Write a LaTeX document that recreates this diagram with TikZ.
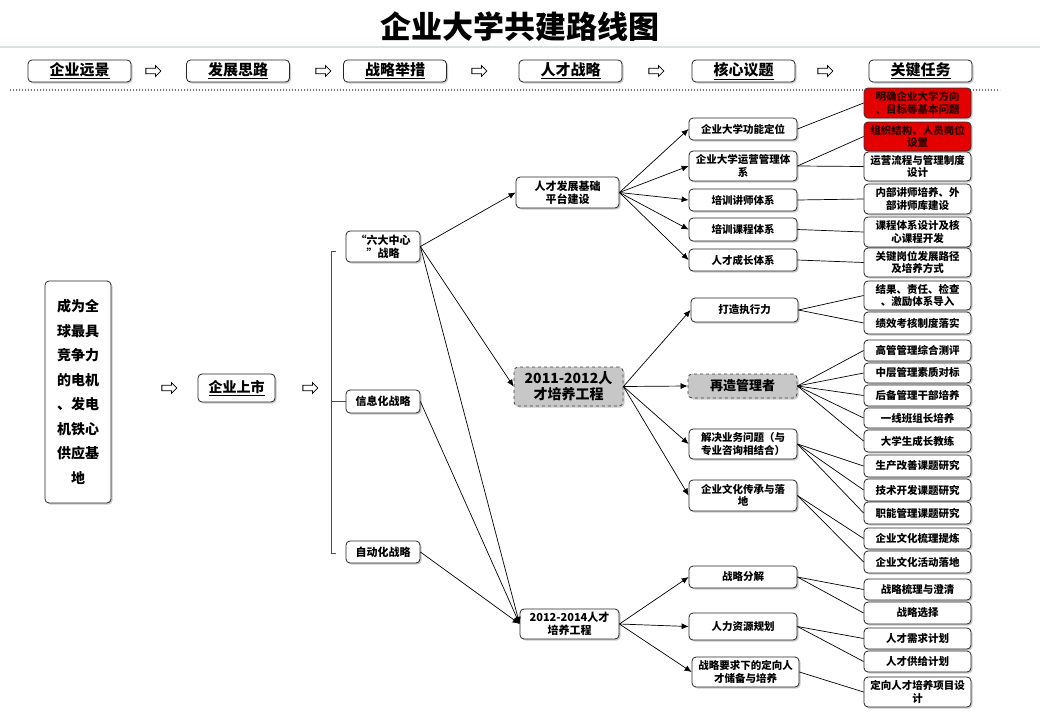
\documentclass[tikz,border=0pt]{standalone}
\usepackage{fontspec}
\setmainfont{Noto Sans CJK SC}[BoldFont={Noto Sans CJK SC Black}]
\newfontfamily\titlefont{Noto Sans CJK SC Black}
\usetikzlibrary{shapes.arrows,shadows,arrows.meta}
\begin{document}
\begin{tikzpicture}[x=1pt,y=-1pt,
  box/.style={draw=black!85, line width=0.8pt, rounded corners=4pt, fill=white, align=center,
    inner sep=1pt, font=\bfseries\fontsize{10.5}{12.5}\selectfont,
    drop shadow={shadow xshift=1.5pt, shadow yshift=-1.5pt, opacity=0.35, fill=black!60}},
  hdr/.style={box, minimum width=103, minimum height=22, font=\bfseries\fontsize{15}{17}\selectfont},
  redbox/.style={box, fill=red!90!black, draw=black!80, text=black!85!red},
  graybox/.style={box, fill=black!22, dashed, draw=black!75},
  harrow/.style={single arrow, draw=black, fill=white, line width=0.8pt, inner sep=2.3pt,
    single arrow head extend=2.6pt, minimum height=15pt},
  arr/.style={draw=black, line width=0.7pt, -{Latex[length=7pt,width=6pt]}},
  ln/.style={draw=black, line width=0.7pt},
  c4/.style={box, minimum width=108},
  c5/.style={box, minimum width=107}
]
\useasboundingbox (0,0) rectangle (1040,720);
% title
\node[font=\titlefont\fontsize{31}{34}\selectfont] (title) at (520,27) {企业大学共建路线图};
\draw[line width=2pt, draw={rgb,255:red,216;green,228;blue,226}] (0,47) -- (1040,47);
% header
\node[hdr] (h1) at (79.5,71) {\underline{企业远景}};
\node[hdr] (h2) at (238,71) {\underline{发展思路}};
\node[hdr] (h3) at (395,71) {\underline{战略举措}};
\node[hdr] (h4) at (570.5,71) {\underline{人才战略}};
\node[hdr] (h5) at (743.5,71) {\underline{核心议题}};
\node[hdr] (h6) at (920.5,71) {\underline{关键任务}};
\node[harrow] (ha1) at (152,71) {};
\node[harrow] (ha2) at (322,71) {};
\node[harrow] (ha3) at (478,71) {};
\node[harrow] (ha4) at (655,71) {};
\node[harrow] (ha5) at (824,71) {};
\draw[line width=1.3pt, draw=black!55, dash pattern=on 1.3pt off 1.7pt] (10,90) -- (1000,90);
% left
\node[box, minimum width=66, minimum height=222, font=\bfseries\fontsize{14}{24.5}\selectfont] (vision) at (78,392)
  {成为全\\球最具\\竞争力\\的电机\\、发电\\机铁心\\供应基\\地};
\node[harrow] (la1) at (168,388) {};
\node[box, minimum width=77, minimum height=28, font=\bfseries\fontsize{14}{16}\selectfont] (ipo) at (236.5,388) {\underline{企业上市}};
\node[harrow] (la2) at (309,388) {};
% column 2
\node[box, minimum width=74, minimum height=31, font=\bfseries\fontsize{11}{13}\selectfont] (six) at (383,246.5) {“六大中心\\”战略};
\node[box, minimum width=74, minimum height=23, font=\bfseries\fontsize{11}{13}\selectfont] (info) at (383,401.5) {信息化战略};
\node[box, minimum width=74, minimum height=22, font=\bfseries\fontsize{11}{13}\selectfont] (auto) at (383,552) {自动化战略};
\draw[line width=0.8pt, draw=black!70] (336,251) -- (331,251) -- (331,553) -- (336,553);
\draw[line width=0.8pt, draw=black!70] (331,401.5) -- (info.west);
% column 3
\node[box, minimum width=103, minimum height=31, font=\bfseries\fontsize{11}{13}\selectfont] (base) at (567.5,192.5) {人才发展基础\\平台建设};
\node[graybox, minimum width=109, minimum height=39, font=\bfseries\fontsize{14}{16}\selectfont] (p1) at (568.5,386.5) {2011-2012人\\才培养工程};
\node[box, minimum width=99, minimum height=30, font=\bfseries\fontsize{11}{13}\selectfont] (p2) at (569.5,624) {2012-2014人才\\培养工程};
% column 4
\node[c4, minimum height=22] (a1) at (743,129) {企业大学功能定位};
\node[c4, minimum height=30] (a2) at (743,166) {企业大学运营管理体\\系};
\node[c4, minimum height=22] (a3) at (743,200) {培训讲师体系};
\node[c4, minimum height=23] (a4) at (743,229.5) {培训课程体系};
\node[c4, minimum height=22] (a5) at (743,260) {人才成长体系};
\node[c4, minimum width=107, minimum height=24] (b1) at (744.5,310) {打造执行力};
\node[graybox, minimum width=109, minimum height=24, font=\bfseries\fontsize{13}{15}\selectfont] (b2) at (742.5,386) {再造管理者};
\node[c4, minimum height=30] (b3) at (743,444) {解决业务问题（与\\专业咨询相结合）};
\node[c4, minimum height=31] (b4) at (743,495.5) {企业文化传承与落\\地};
\node[c4, minimum height=22] (d1) at (743,577) {战略分解};
\node[c4, minimum height=27] (d2) at (743,626.5) {人力资源规划};
\node[c4, minimum width=107, minimum height=30] (d3) at (745.5,672) {战略要求下的定向人\\才储备与培养};
% column 5
\node[redbox, minimum width=107, minimum height=30] (t1) at (917.5,103) {明确企业大学方向\\、目标等基本问题};
\node[redbox, minimum width=107, minimum height=29] (t2) at (917.5,136.5) {组织结构、人员岗位\\设置};
\node[c5, minimum height=29] (t3) at (917.5,166.5) {运营流程与管理制度\\设计};
\node[c5, minimum height=30] (t4) at (917.5,199) {内部讲师培养、外\\部讲师库建设};
\node[c5, minimum height=30] (t5) at (917.5,232) {课程体系设计及核\\心课程开发};
\node[c5, minimum height=29] (t6) at (917.5,262.5) {关键岗位发展路径\\及培养方式};
\node[c5, minimum height=29] (t7) at (917.5,295.5) {结果、责任、检查\\、激励体系导入};
\node[c5, minimum height=22] (t8) at (917.5,323) {绩效考核制度落实};
\node[c5, minimum height=21] (t9) at (917.5,350.5) {高管管理综合测评};
\node[c5, minimum height=20] (t10) at (917.5,373) {中层管理素质对标};
\node[c5, minimum height=21] (t11) at (917.5,395.5) {后备管理干部培养};
\node[c5, minimum height=20] (t12) at (917.5,418) {一线班组长培养};
\node[c5, minimum height=22] (t13) at (917.5,441) {大学生成长教练};
\node[c5, minimum height=22] (t14) at (917.5,466) {生产改善课题研究};
\node[c5, minimum height=22] (t15) at (917.5,490) {技术开发课题研究};
\node[c5, minimum height=22] (t16) at (917.5,513) {职能管理课题研究};
\node[c5, minimum height=21] (t17) at (917.5,538.5) {企业文化梳理提炼};
\node[c5, minimum height=22] (t18) at (917.5,562) {企业文化活动落地};
\node[c5, minimum height=21] (t19) at (917.5,589.5) {战略梳理与澄清};
\node[c5, minimum height=22] (t20) at (917.5,613) {战略选择};
\node[c5, minimum height=21] (t21) at (917.5,638.5) {人才需求计划};
\node[c5, minimum height=21] (t22) at (917.5,661.5) {人才供给计划};
\node[c5, minimum height=30] (t23) at (917.5,692) {定向人才培养项目设\\计};
% arrows col2 -> col3
\draw[arr] (six.east) -- (base.west);
\draw[arr] (six.east) -- (p1.west);
\draw[arr] (six.east) -- (p2.west);
\draw[arr] (info.east) -- (p2.west);
\draw[arr] (auto.east) -- (p2.west);
% arrows col3 -> col4
\foreach \t in {a1,a2,a3,a4,a5} \draw[arr] (base.east) -- (\t.west);
\foreach \t in {b1,b2,b3,b4} \draw[arr] (p1.east) -- (\t.west);
\foreach \t in {d1,d2,d3} \draw[arr] (p2.east) -- (\t.west);
% lines col4 -> col5
\draw[ln] (a1.east) -- (t1.west);
\draw[ln] (a2.east) -- (t2.west);
\draw[ln] (a2.east) -- (t3.west);
\draw[ln] (a3.east) -- (t4.west);
\draw[ln] (a4.east) -- (t5.west);
\draw[ln] (a5.east) -- (t6.west);
\draw[ln] (b1.east) -- (t7.west);
\draw[ln] (b1.east) -- (t8.west);
\foreach \t in {t9,t10,t11,t12,t13} \draw[ln] (b2.east) -- (\t.west);
\foreach \t in {t14,t15,t16} \draw[ln] (b3.east) -- (\t.west);
\foreach \t in {t17,t18} \draw[ln] (b4.east) -- (\t.west);
\foreach \t in {t19,t20} \draw[ln] (d1.east) -- (\t.west);
\foreach \t in {t21,t22} \draw[ln] (d2.east) -- (\t.west);
\draw[ln] (d3.east) -- (t23.west);
\end{tikzpicture}
\end{document}
